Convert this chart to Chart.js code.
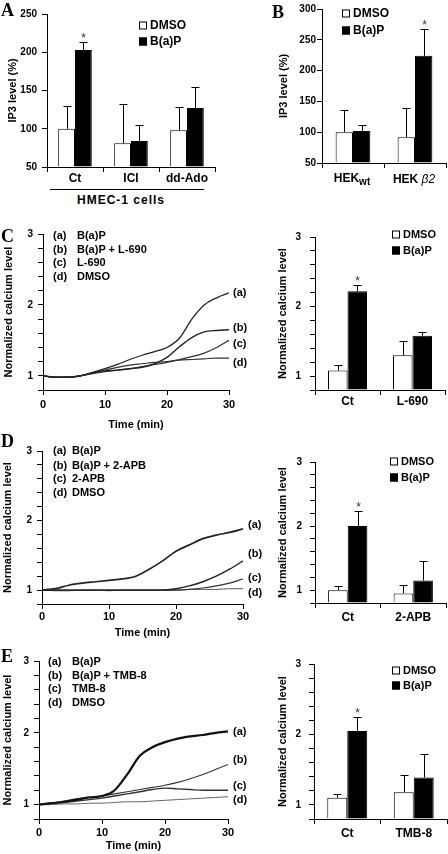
<!DOCTYPE html>
<html lang="en">
<head>
  <meta charset="UTF-8">
  <title>B(a)P: IP3 and calcium levels</title>
  <script src="https://cdn.jsdelivr.net/npm/chart.js"></script>
  <style>
    body {
      margin: 0;
      width: 448px;
      height: 854px;
      position: relative;
      overflow: hidden;
      background: #fff;
      color: #000;
      font-family: 'Liberation Sans', Arial, sans-serif;
      font-weight: bold;
    }
    canvas { position: absolute; display: block; }
    .t {
      position: absolute;
      white-space: nowrap;
      font-size: 11px;
      line-height: 13px;
      transform: translateY(-50%);
    }
    .c { transform: translate(-50%, -50%); }
    .letter {
      position: absolute;
      font-family: 'Liberation Serif', serif;
      font-size: 18px;
      line-height: 18px;
      font-weight: bold;
    }
    .lg { display: flex; align-items: center; }
    .sw {
      display: inline-block;
      width: 6px;
      height: 6px;
      border: 1px solid #000;
      background: #fff;
      margin-right: 3px;
    }
    .sw.blk { background: #000; }
  </style>
</head>
<body>
  <canvas id="chA"></canvas>
  <canvas id="chB"></canvas>
  <canvas id="chC"></canvas>
  <canvas id="chCbar"></canvas>
  <canvas id="chD"></canvas>
  <canvas id="chDbar"></canvas>
  <canvas id="chE"></canvas>
  <canvas id="chEbar"></canvas>

  <!-- panel letters -->
  <div class="letter" style="left:1px;top:1px">A</div>
  <div class="letter" style="left:272px;top:3px">B</div>
  <div class="letter" style="left:1px;top:227px">C</div>
  <div class="letter" style="left:1px;top:432px">D</div>
  <div class="letter" style="left:1px;top:647px">E</div>

  <!-- A -->
  <div class="t lg" style="left:139px;top:25px;font-size:12px"><span class="sw"></span>DMSO</div>
  <div class="t lg" style="left:139px;top:41px;font-size:12px"><span class="sw blk"></span>B(a)P</div>
  <div style="position:absolute;left:50px;top:189px;width:154px;border-top:1px solid #000"></div>
  <div class="t c" style="left:121px;top:200px;font-size:12px;letter-spacing:1px">HMEC-1 cells</div>

  <!-- B -->
  <div class="t lg" style="left:342px;top:13px;font-size:12px"><span class="sw"></span>DMSO</div>
  <div class="t lg" style="left:342px;top:30px;font-size:12px"><span class="sw blk"></span>B(a)P</div>
  <div class="t c" style="left:352px;top:180px;font-size:12px">HEK<sub style="font-size:10px">wt</sub></div>
  <div class="t c" style="left:414px;top:179px;font-size:12px">HEK <i style="font-weight:normal">β2</i></div>

  <!-- C -->
  <div class="t" style="left:53px;top:235px">(a)</div><div class="t" style="left:77px;top:235px">B(a)P</div>
  <div class="t" style="left:53px;top:249px">(b)</div><div class="t" style="left:77px;top:249px">B(a)P + L-690</div>
  <div class="t" style="left:53px;top:262px">(c)</div><div class="t" style="left:77px;top:262px">L-690</div>
  <div class="t" style="left:53px;top:276px">(d)</div><div class="t" style="left:77px;top:276px">DMSO</div>
  <div class="t" style="left:233px;top:292px">(a)</div>
  <div class="t" style="left:233px;top:327px">(b)</div>
  <div class="t" style="left:233px;top:343px">(c)</div>
  <div class="t" style="left:233px;top:362px">(d)</div>
  <div class="t lg" style="left:392px;top:234px"><span class="sw"></span>DMSO</div>
  <div class="t lg" style="left:392px;top:250px"><span class="sw blk"></span>B(a)P</div>

  <!-- D -->
  <div class="t" style="left:53px;top:450px">(a)</div><div class="t" style="left:72px;top:450px">B(a)P</div>
  <div class="t" style="left:53px;top:465px">(b)</div><div class="t" style="left:72px;top:465px">B(a)P + 2-APB</div>
  <div class="t" style="left:53px;top:478px">(c)</div><div class="t" style="left:72px;top:478px">2-APB</div>
  <div class="t" style="left:53px;top:492px">(d)</div><div class="t" style="left:72px;top:492px">DMSO</div>
  <div class="t" style="left:248px;top:524px">(a)</div>
  <div class="t" style="left:248px;top:553px">(b)</div>
  <div class="t" style="left:248px;top:577px">(c)</div>
  <div class="t" style="left:248px;top:592px">(d)</div>
  <div class="t lg" style="left:390px;top:461px"><span class="sw"></span>DMSO</div>
  <div class="t lg" style="left:390px;top:477px"><span class="sw blk"></span>B(a)P</div>

  <!-- E -->
  <div class="t" style="left:48px;top:661px">(a)</div><div class="t" style="left:72px;top:661px">B(a)P</div>
  <div class="t" style="left:48px;top:675px">(b)</div><div class="t" style="left:72px;top:675px">B(a)P + TMB-8</div>
  <div class="t" style="left:48px;top:688px">(c)</div><div class="t" style="left:72px;top:688px">TMB-8</div>
  <div class="t" style="left:48px;top:702px">(d)</div><div class="t" style="left:72px;top:702px">DMSO</div>
  <div class="t" style="left:233px;top:731px">(a)</div>
  <div class="t" style="left:233px;top:759px">(b)</div>
  <div class="t" style="left:233px;top:785px">(c)</div>
  <div class="t" style="left:233px;top:799px">(d)</div>
  <div class="t lg" style="left:392px;top:670px"><span class="sw"></span>DMSO</div>
  <div class="t lg" style="left:392px;top:685px"><span class="sw blk"></span>B(a)P</div>

  <script>
    // ---- data ----
    const barSeries = ['DMSO', 'B(a)P'];

    // A: IP3 level (%), HMEC-1 cells
    const catsA = ['Ct', 'ICI', 'dd-Ado'];
    const dmsoA = [100, 81, 98];
    const dmsoErrA = [30, 51, 30];
    const bapA = [203, 84, 127];
    const bapErrA = [11, 21, 27];

    // B: IP3 level (%), HEK cells
    const catsB = ['HEKwt', 'HEKβ2'];
    const dmsoB = [100, 92];
    const dmsoErrB = [36, 47];
    const bapB = [102, 224];
    const bapErrB = [10, 43];

    // time courses (min) shared by C, D, E
    const minutes = [0, 2, 4, 6, 8, 10, 12, 14, 16, 18, 20, 22, 24, 26, 28, 30];
    const curveTags = ['(a)', '(b)', '(c)', '(d)'];

    // C: B(a)P, B(a)P + L-690, L-690, DMSO
    const cBap    = [1.0, 0.98, 0.98, 1.0, 1.05, 1.10, 1.16, 1.23, 1.29, 1.34, 1.40, 1.53, 1.80, 2.00, 2.10, 2.17];
    const cBapL   = [1.0, 0.98, 0.98, 1.0, 1.04, 1.07, 1.08, 1.10, 1.12, 1.17, 1.26, 1.41, 1.54, 1.62, 1.64, 1.65];
    const cL690   = [1.0, 0.98, 0.98, 1.0, 1.03, 1.06, 1.08, 1.10, 1.13, 1.16, 1.19, 1.23, 1.27, 1.32, 1.40, 1.50];
    const cDmso   = [1.0, 0.98, 0.98, 1.0, 1.04, 1.08, 1.12, 1.15, 1.17, 1.19, 1.20, 1.22, 1.23, 1.24, 1.25, 1.25];
    const catsC = ['Ct', 'L-690'];
    const dmsoC = [1.08, 1.30];
    const dmsoErrC = [0.08, 0.20];
    const bapC = [2.22, 1.58];
    const bapErrC = [0.09, 0.05];

    // D: B(a)P, B(a)P + 2-APB, 2-APB, DMSO
    const dBap    = [1.0, 1.02, 1.07, 1.10, 1.12, 1.14, 1.16, 1.20, 1.30, 1.42, 1.56, 1.65, 1.74, 1.79, 1.83, 1.88];
    const dBapA   = [1.0, 1.0, 1.0, 1.0, 1.0, 1.0, 1.0, 1.0, 1.0, 1.0, 1.02, 1.06, 1.12, 1.20, 1.30, 1.42];
    const dApb    = [1.0, 1.0, 1.0, 1.0, 1.0, 1.0, 1.0, 1.0, 1.0, 1.0, 1.0, 1.01, 1.03, 1.06, 1.10, 1.16];
    const dDmso   = [1.0, 0.99, 0.99, 1.0, 1.0, 0.99, 1.0, 1.0, 1.0, 1.0, 1.0, 1.01, 1.01, 1.01, 1.02, 1.02];
    const catsD = ['Ct', '2-APB'];
    const dmsoD = [1.00, 0.95];
    const dmsoErrD = [0.07, 0.13];
    const bapD = [2.00, 1.15];
    const bapErrD = [0.23, 0.30];

    // E: B(a)P, B(a)P + TMB-8, TMB-8, DMSO
    const eBap    = [1.0, 1.02, 1.04, 1.07, 1.10, 1.12, 1.20, 1.42, 1.68, 1.80, 1.87, 1.92, 1.95, 1.97, 2.00, 2.02];
    const eBapT   = [1.0, 1.02, 1.05, 1.08, 1.10, 1.12, 1.15, 1.18, 1.21, 1.24, 1.27, 1.31, 1.36, 1.42, 1.49, 1.56];
    const eTmb    = [1.0, 1.02, 1.03, 1.05, 1.07, 1.09, 1.12, 1.15, 1.18, 1.21, 1.23, 1.22, 1.21, 1.20, 1.20, 1.20];
    const eDmso   = [1.0, 1.0, 1.01, 1.01, 1.02, 1.02, 1.03, 1.04, 1.04, 1.05, 1.06, 1.07, 1.08, 1.09, 1.10, 1.11];
    const catsE = ['Ct', 'TMB-8'];
    const dmsoE = [1.10, 1.18];
    const dmsoErrE = [0.05, 0.25];
    const bapE = [2.05, 1.39];
    const bapErrE = [0.20, 0.33];

    // ---- styling ----
    const fam = "'Liberation Sans', Arial, sans-serif";
    const tickFont = { family: fam, size: 10, weight: 'bold' };
    const catFont = { family: fam, size: 12, weight: 'bold' };
    const numFont = { family: fam, size: 11, weight: 'bold' };
    const titleFont = { family: fam, size: 11, weight: 'bold' };

    // one-sided error bars + significance star, placed through the y scale
    const errorBars = {
      id: 'errorBars',
      afterDatasetsDraw(chart) {
        const ctx = chart.ctx;
        const y = chart.scales.y;
        ctx.save();
        ctx.strokeStyle = '#000';
        ctx.fillStyle = '#333';
        ctx.lineWidth = 1;
        ctx.font = '12px ' + fam;
        ctx.textAlign = 'center';
        chart.data.datasets.forEach((ds, i) => {
          if (!ds.errors) return;
          chart.getDatasetMeta(i).data.forEach((bar, j) => {
            const x = Math.round(bar.x) + 0.5;
            const top = Math.round(y.getPixelForValue(ds.data[j] + ds.errors[j])) + 0.5;
            ctx.beginPath();
            ctx.moveTo(x, bar.y);
            ctx.lineTo(x, top);
            ctx.moveTo(x - 4, top);
            ctx.lineTo(x + 4, top);
            ctx.stroke();
            if (ds.stars && ds.stars[j]) ctx.fillText('*', x, top - 1);
          });
        });
        ctx.restore();
      }
    };

    function fitCanvas(id, area, axisW, axisH, padT, padR) {
      const cv = document.getElementById(id);
      const left = area[0] - axisW;
      const top = area[1] - padT;
      cv.style.left = left + 'px';
      cv.style.top = top + 'px';
      cv.width = area[2] - left + padR;
      cv.height = area[3] - top + axisH;
      return cv;
    }

    function yScale(min, max, step, title, axisW, tickPad, titlePad, wholeOnly) {
      return {
        min: min,
        max: max,
        ticks: {
          stepSize: step,
          maxTicksLimit: 30,
          autoSkip: false,
          color: '#000',
          font: tickFont,
          padding: tickPad,
          callback: v => wholeOnly ? (Math.abs(v - Math.round(v)) < 1e-6 ? Math.round(v) : '') : v
        },
        grid: { drawOnChartArea: false, tickLength: 5, color: '#000' },
        border: { color: '#000' },
        title: { display: true, text: title, color: '#000', font: titleFont, padding: { top: titlePad, bottom: 0 } },
        afterFit: s => { s.width = axisW; }
      };
    }

    function barChart(id, o) {
      const cv = fitCanvas(id, o.area, o.axisW, o.axisH, 10, 12);
      return new Chart(cv, {
        type: 'bar',
        data: {
          labels: o.cats,
          datasets: [
            { label: barSeries[0], data: o.dmso, errors: o.dmsoErr, backgroundColor: '#fff', borderColor: '#000', borderWidth: 1, base: o.min, clip: 0 },
            { label: barSeries[1], data: o.bap, errors: o.bapErr, stars: o.stars, backgroundColor: '#000', borderColor: '#000', borderWidth: 1, base: o.min, clip: 0 }
          ]
        },
        options: {
          responsive: false,
          animation: false,
          layout: { padding: { top: 10, right: 12, left: 0, bottom: 0 } },
          datasets: { bar: { categoryPercentage: o.catPct, barPercentage: 1 } },
          plugins: { legend: { display: false }, tooltip: { enabled: false } },
          scales: {
            x: {
              ticks: {
                color: '#000', font: catFont, padding: o.catPad, autoSkip: false, maxRotation: 0,
                callback: o.hideCats ? () => '' : function (v) { return this.getLabelForValue(v); }
              },
              grid: { drawOnChartArea: false, tickLength: 5, color: '#000' },
              border: { color: '#000' },
              afterFit: s => { s.height = o.axisH; }
            },
            y: yScale(o.min, o.max, o.step, o.title, o.axisW, o.tickPad, o.titlePad, o.wholeOnly)
          }
        },
        plugins: [errorBars]
      });
    }

    function lineChart(id, o) {
      const cv = fitCanvas(id, o.area, o.axisW, o.axisH, 10, 12);
      return new Chart(cv, {
        type: 'line',
        data: {
          datasets: o.curves.map((c, i) => ({
            label: curveTags[i],
            data: minutes.map((t, k) => ({ x: t, y: c[k] })),
            borderColor: o.colors[i],
            borderWidth: o.widths[i],
            pointRadius: 0,
            cubicInterpolationMode: 'monotone',
            fill: false
          }))
        },
        options: {
          responsive: false,
          animation: false,
          layout: { padding: { top: 10, right: 12, left: 0, bottom: 0 } },
          plugins: { legend: { display: false }, tooltip: { enabled: false } },
          scales: {
            x: {
              type: 'linear',
              min: 0,
              max: 30,
              ticks: { stepSize: 10, autoSkip: false, maxRotation: 0, color: '#000', font: numFont, padding: o.xPad },
              grid: { drawOnChartArea: false, tickLength: 5, color: '#000' },
              border: { color: '#000' },
              title: { display: true, text: 'Time (min)', color: '#000', font: titleFont, padding: { top: 0, bottom: 2 } },
              afterFit: s => { s.height = o.axisH; }
            },
            y: yScale(0.8, 3, 0.2, 'Normalized calcium level', o.axisW, 5, o.titlePad, true)
          }
        }
      });
    }

    // A
    barChart('chA', {
      area: [47, 13, 215, 167], axisW: 47, axisH: 22, cats: catsA,
      dmso: dmsoA, dmsoErr: dmsoErrA, bap: bapA, bapErr: bapErrA, stars: [true, false, false],
      min: 50, max: 250, step: 50, title: 'IP3 level (%)', tickPad: 5, titlePad: 6, catPct: 0.6, catPad: -1
    });

    // B
    barChart('chB', {
      area: [322, 9, 446, 163], axisW: 46, axisH: 22, cats: catsB, hideCats: true,
      dmso: dmsoB, dmsoErr: dmsoErrB, bap: bapB, bapErr: bapErrB, stars: [false, true],
      min: 50, max: 300, step: 50, title: 'IP3 level (%)', tickPad: 1, titlePad: 1, catPct: 0.56, catPad: 0
    });

    // C
    lineChart('chC', {
      area: [43, 233, 229, 390], axisW: 43, axisH: 44, xPad: 3, titlePad: 2,
      curves: [cBap, cBapL, cL690, cDmso],
      widths: [1.3, 1.4, 1.3, 1.2], colors: ['#222', '#222', '#333', '#333']
    });
    barChart('chCbar', {
      area: [315, 232, 445, 390], axisW: 40, axisH: 22, cats: catsC,
      dmso: dmsoC, dmsoErr: dmsoErrC, bap: bapC, bapErr: bapErrC, stars: [true, false],
      min: 0.8, max: 3, step: 0.2, wholeOnly: true, title: 'Normalized calcium level', tickPad: 9, titlePad: 1, catPct: 0.6, catPad: -1
    });

    // D
    lineChart('chD', {
      area: [42, 450, 243, 604], axisW: 42, axisH: 38, xPad: 1, titlePad: 1,
      curves: [dBap, dBapA, dApb, dDmso],
      widths: [1.7, 1.4, 1.2, 1.0], colors: ['#222', '#222', '#333', '#555']
    });
    barChart('chDbar', {
      area: [315, 458, 446, 603], axisW: 40, axisH: 24, cats: catsD,
      dmso: dmsoD, dmsoErr: dmsoErrD, bap: bapD, bapErr: bapErrD, stars: [true, false],
      min: 0.8, max: 3, step: 0.2, wholeOnly: true, title: 'Normalized calcium level', tickPad: 8, titlePad: 1, catPct: 0.6, catPad: 2
    });

    // E
    lineChart('chE', {
      area: [39, 660, 228, 819], axisW: 39, axisH: 36, xPad: 2, titlePad: 1,
      curves: [eBap, eBapT, eTmb, eDmso],
      widths: [2.2, 1.1, 1.4, 1.0], colors: ['#111', '#333', '#333', '#666']
    });
    barChart('chEbar', {
      area: [314, 660, 447, 819], axisW: 39, axisH: 24, cats: catsE,
      dmso: dmsoE, dmsoErr: dmsoErrE, bap: bapE, bapErr: bapErrE, stars: [true, false],
      min: 0.8, max: 3, step: 0.2, wholeOnly: true, title: 'Normalized calcium level', tickPad: 8, titlePad: 1, catPct: 0.6, catPad: 2
    });
  </script>
</body>
</html>
